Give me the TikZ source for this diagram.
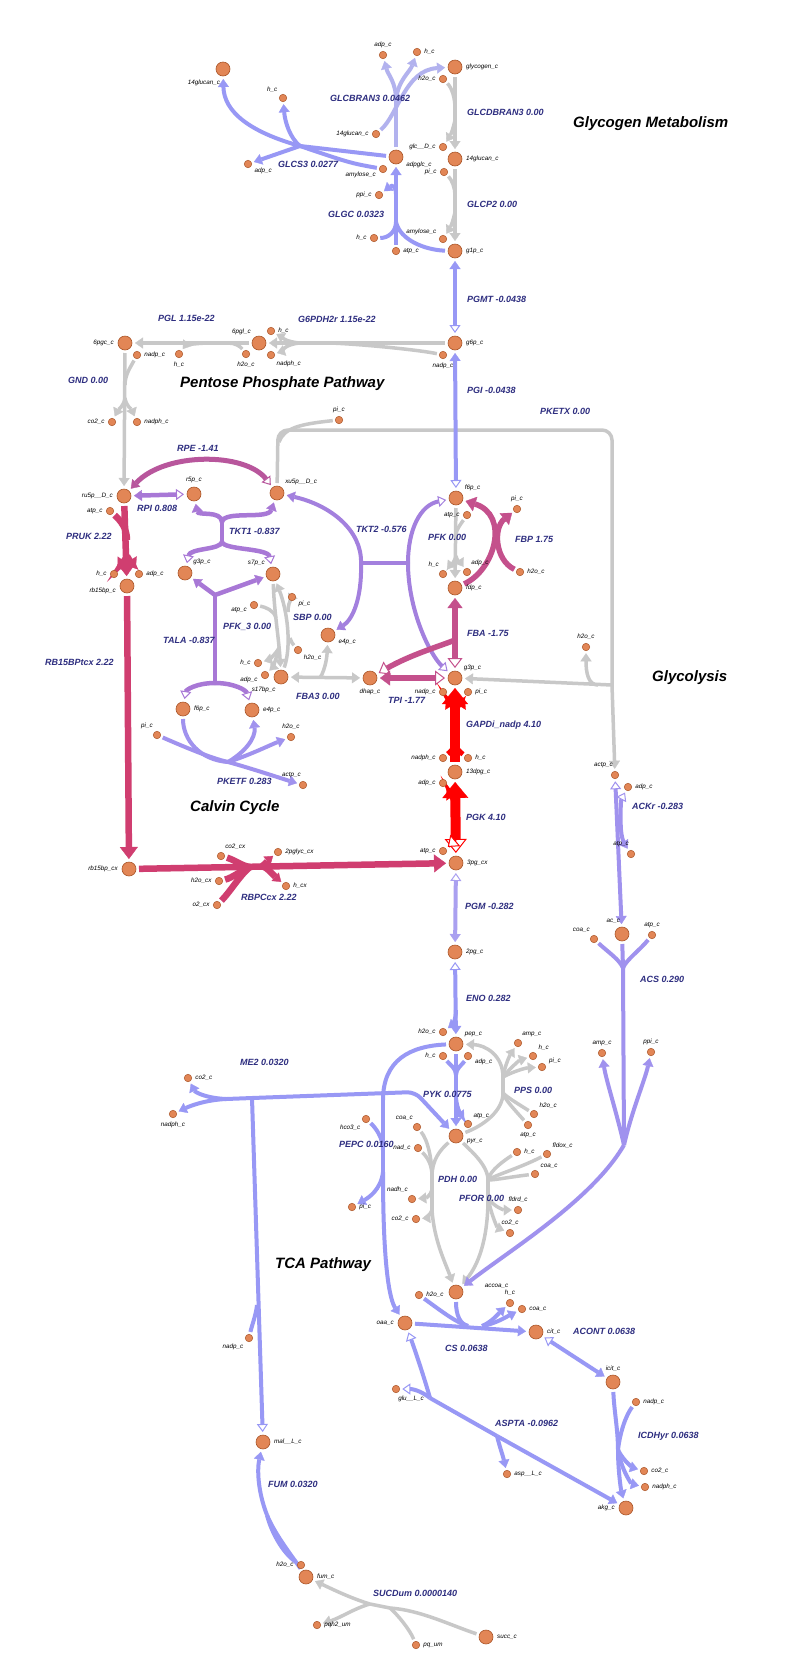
\documentclass[tikz,border=0pt]{standalone}
\usepackage{fontspec}
\setmainfont{Liberation Sans}
\usetikzlibrary{arrows.meta}
\pgfdeclarelayer{bg}
\pgfsetlayers{bg,main}

\definecolor{gcol}{RGB}{200,200,200}
\definecolor{bcol}{RGB}{152,152,245}
\definecolor{lbcol}{RGB}{178,178,238}
\definecolor{lvcol}{RGB}{170,160,240}
\definecolor{pucol}{RGB}{168,120,214}
\definecolor{pu2col}{RGB}{163,128,222}
\definecolor{pkcol}{RGB}{160,146,238}
\definecolor{rpecol}{RGB}{184,86,156}
\definecolor{mgcol}{RGB}{196,80,140}
\definecolor{crcol}{RGB}{208,62,112}
\definecolor{rdcol}{RGB}{255,0,0}
\definecolor{metfill}{RGB}{226,134,86}
\definecolor{metdraw}{RGB}{170,85,40}
\definecolor{rxcol}{RGB}{46,46,128}

\tikzset{
  ff/.tip={Triangle[length=8pt,width=11pt,line width=0.3pt]},
  hh/.tip={Triangle[length=8pt,width=11pt,line width=1pt,fill=white]},
  mf/.tip={Triangle[length=10pt,width=15pt,line width=0.3pt]},
  mh/.tip={Triangle[length=10pt,width=15pt,line width=1pt,fill=white]},
  cf/.tip={Triangle[length=12pt,width=18pt,line width=0.3pt]},
  rf/.tip={Triangle[length=16pt,width=26pt,line width=0.3pt]},
  rh/.tip={Triangle[length=14pt,width=22pt,line width=1pt,fill=white]},
  bm/.style={circle,minimum size=14pt,inner sep=0pt,outer sep=3pt,fill=metfill,draw=metdraw,line width=0.6pt},
  sm/.style={circle,minimum size=7.5pt,inner sep=0pt,outer sep=2.5pt,fill=metfill,draw=metdraw,line width=0.5pt},
  ml/.style={font=\fontsize{6.3}{7}\selectfont\itshape,text=black,inner sep=1pt},
  rl/.style={font=\fontsize{9}{11}\selectfont\bfseries\itshape,text=rxcol,anchor=west,inner sep=0pt},
  ttl/.style={font=\fontsize{15}{18}\selectfont\bfseries\itshape,text=black,anchor=west,inner sep=0pt},
  gr/.style={draw=gcol,line width=3.5pt},
  bl/.style={draw=bcol,line width=4pt},
  lb/.style={draw=lbcol,line width=4pt},
  lv/.style={draw=lvcol,line width=4pt},
  pu/.style={draw=pucol,line width=4.5pt},
  pu2/.style={draw=pu2col,line width=4pt},
  pk/.style={draw=pkcol,line width=4pt},
  rpe/.style={draw=rpecol,line width=5pt},
  mg/.style={draw=mgcol,line width=5.5pt},
  cr/.style={draw=crcol,line width=6.5pt},
  rd/.style={draw=rdcol,line width=10pt},
}
\newcommand\Mb[5]{\node[bm,label={[ml]#4:#5}] (#1) at (#2,#3) {};}
\newcommand\Ms[5]{\node[sm,label={[ml]#4:#5}] (#1) at (#2,#3) {};}

\begin{document}
\begin{tikzpicture}[x=1pt,y=-1pt]
\useasboundingbox (0,0) rectangle (788,1674);

% ---------- metabolites: glycogen ----------
\Mb{glucanA}{223}{69}{-100}{14glucan\_c}
\Ms{hA}{283}{98}{135}{h\_c}
\Ms{adpA}{248}{164}{-30}{adp\_c}
\Ms{glucanB}{376}{134}{180}{14glucan\_c}
\Mb{adpglc}{396}{157}{-25}{adpglc\_c}
\Ms{amyA}{383}{169}{195}{amylose\_c}
\Ms{adpB}{383}{55}{90}{adp\_c}
\Ms{hB}{417}{52}{0}{h\_c}
\Mb{glycogen}{455}{67}{0}{glycogen\_c}
\Ms{h2oA}{443}{79}{180}{h2o\_c}
\Ms{glcD}{443}{147}{180}{glc\_\_D\_c}
\Mb{glucanC}{455}{159}{0}{14glucan\_c}
\Ms{piA}{444}{172}{180}{pi\_c}
\Ms{ppiA}{379}{195}{180}{ppi\_c}
\Ms{hC}{374}{238}{180}{h\_c}
\Ms{atpA}{396}{251}{0}{atp\_c}
\Ms{amyB}{443}{239}{150}{amylose\_c}
\Mb{g1p}{455}{251}{0}{g1p\_c}

% ---------- pentose phosphate ----------
\Mb{g6p}{455}{343}{0}{g6p\_c}
\Ms{nadpA}{443}{355}{-90}{nadp\_c}
\Mb{pgl6}{259}{343}{135}{6pgl\_c}
\Ms{hD}{271}{331}{0}{h\_c}
\Ms{nadphA}{271}{355}{-45}{nadph\_c}
\Ms{h2oB}{246}{354}{-90}{h2o\_c}
\Ms{hE}{179}{354}{-90}{h\_c}
\Mb{pgc6}{125}{343}{180}{6pgc\_c}
\Ms{nadpB}{137}{355}{0}{nadp\_c}
\Ms{co2A}{112}{422}{180}{co2\_c}
\Ms{nadphB}{137}{422}{0}{nadph\_c}
\Ms{piB}{339}{420}{90}{pi\_c}

% ---------- Calvin cycle ----------
\Mb{ru5p}{124}{496}{180}{ru5p\_\_D\_c}
\Ms{atpB}{110}{511}{180}{atp\_c}
\Mb{r5p}{194}{494}{90}{r5p\_c}
\Mb{xu5p}{277}{493}{45}{xu5p\_\_D\_c}
\Ms{hF}{114}{574}{180}{h\_c}
\Ms{adpC}{139}{574}{0}{adp\_c}
\Mb{rb15bp}{127}{586}{185}{rb15bp\_c}
\Mb{g3pA}{185}{573}{45}{g3p\_c}
\Mb{s7p}{273}{574}{135}{s7p\_c}
\Ms{atpC}{254}{605}{195}{atp\_c}
\Ms{piC}{292}{597}{-30}{pi\_c}
\Mb{e4pA}{328}{635}{-20}{e4p\_c}
\Ms{h2oC}{298}{650}{-40}{h2o\_c}
\Ms{hG}{258}{663}{180}{h\_c}
\Ms{adpD}{265}{675}{190}{adp\_c}
\Mb{s17bp}{281}{677}{-115}{s17bp\_c}
\Mb{dhap}{370}{678}{-90}{dhap\_c}
\Mb{f6pA}{183}{709}{0}{f6p\_c}
\Mb{e4pB}{252}{710}{0}{e4p\_c}
\Ms{piD}{157}{735}{120}{pi\_c}
\Ms{h2oD}{291}{737}{90}{h2o\_c}
\Ms{actpA}{303}{785}{100}{actp\_c}
\Mb{rb15bpcx}{129}{869}{180}{rb15bp\_cx}
\Ms{co2cx}{221}{856}{60}{co2\_cx}
\Ms{pglyc}{278}{852}{0}{2pglyc\_cx}
\Ms{h2ocx}{219}{881}{180}{h2o\_cx}
\Ms{hcx}{286}{886}{0}{h\_cx}
\Ms{o2cx}{217}{905}{180}{o2\_cx}

% ---------- glycolysis ----------
\Mb{f6p}{456}{498}{40}{f6p\_c}
\Ms{atpD}{467}{515}{180}{atp\_c}
\Ms{hH}{443}{574}{120}{h\_c}
\Ms{adpE}{467}{572}{60}{adp\_c}
\Mb{fdp}{455}{588}{0}{fdp\_c}
\Ms{piE}{517}{509}{90}{pi\_c}
\Ms{h2oE}{520}{572}{0}{h2o\_c}
\Mb{g3p}{455}{678}{40}{g3p\_c}
\Ms{nadpC}{443}{692}{180}{nadp\_c}
\Ms{piF}{468}{692}{0}{pi\_c}
\Ms{nadph}{443}{758}{180}{nadph\_c}
\Ms{hI}{468}{758}{0}{h\_c}
\Mb{dpg13}{455}{772}{0}{13dpg\_c}
\Ms{adpF}{443}{783}{180}{adp\_c}
\Ms{atpE}{443}{851}{180}{atp\_c}
\Mb{pg3cx}{456}{863}{0}{3pg\_cx}
\Mb{pg2}{455}{952}{0}{2pg\_c}
\Ms{h2oF}{586}{647}{90}{h2o\_c}
\Ms{actp}{615}{775}{100}{actp\_c}
\Ms{adpG}{628}{787}{0}{adp\_c}
\Ms{atpF}{631}{854}{100}{atp\_c}
\Mb{ac}{622}{934}{95}{ac\_c}
\Ms{coaA}{594}{939}{120}{coa\_c}
\Ms{atpG}{652}{935}{90}{atp\_c}
\Ms{ampA}{602}{1053}{90}{amp\_c}
\Ms{ppiB}{651}{1052}{90}{ppi\_c}

% ---------- pyruvate and TCA ----------
\Mb{pep}{456}{1044}{40}{pep\_c}
\Ms{h2oG}{443}{1032}{180}{h2o\_c}
\Ms{hJ}{443}{1056}{180}{h\_c}
\Ms{adpH}{468}{1056}{-20}{adp\_c}
\Ms{ampB}{518}{1043}{60}{amp\_c}
\Ms{hK}{533}{1056}{45}{h\_c}
\Ms{piG}{542}{1067}{15}{pi\_c}
\Ms{h2oH}{534}{1114}{45}{h2o\_c}
\Ms{atpH}{528}{1125}{-90}{atp\_c}
\Ms{atpI}{468}{1124}{45}{atp\_c}
\Mb{pyr}{456}{1136}{-10}{pyr\_c}
\Ms{coaB}{417}{1127}{120}{coa\_c}
\Ms{nadA}{418}{1148}{180}{nad\_c}
\Ms{nadhA}{412}{1199}{120}{nadh\_c}
\Ms{co2B}{416}{1219}{180}{co2\_c}
\Ms{hL}{517}{1152}{0}{h\_c}
\Ms{fldox}{547}{1154}{45}{fldox\_c}
\Ms{coaC}{535}{1174}{45}{coa\_c}
\Ms{fldrd}{518}{1210}{90}{fldrd\_c}
\Ms{co2C}{510}{1233}{90}{co2\_c}
\Ms{co2D}{188}{1078}{0}{co2\_c}
\Ms{nadphC}{173}{1114}{-90}{nadph\_c}
\Ms{hco3}{366}{1119}{-135}{hco3\_c}
\Ms{piH}{352}{1207}{0}{pi\_c}
\Ms{h2oI}{419}{1295}{0}{h2o\_c}
\Mb{accoa}{456}{1292}{15}{\hspace{18pt}accoa\_c}
\Ms{hM}{510}{1303}{90}{h\_c}
\Ms{coaD}{522}{1309}{0}{coa\_c}
\Mb{oaa}{405}{1323}{180}{oaa\_c}
\Mb{cit}{536}{1332}{0}{cit\_c}
\Mb{icit}{613}{1382}{90}{icit\_c}
\Ms{nadpD}{636}{1402}{0}{nadp\_c}
\Ms{glu}{396}{1389}{-80}{glu\_\_L\_c}
\Ms{asp}{507}{1474}{0}{asp\_\_L\_c}
\Ms{nadpE}{249}{1338}{-135}{nadp\_c}
\Mb{mal}{263}{1442}{0}{mal\_\_L\_c}
\Ms{co2E}{644}{1471}{0}{co2\_c}
\Ms{nadphD}{645}{1487}{0}{nadph\_c}
\Mb{akg}{626}{1508}{180}{akg\_c}
\Ms{h2oJ}{301}{1565}{180}{h2o\_c}
\Mb{fum}{306}{1577}{0}{fum\_c}
\Ms{pqh2}{317}{1625}{0}{pqh2\_um}
\Ms{pq}{416}{1645}{0}{pq\_um}
\Mb{succ}{486}{1637}{0}{succ\_c}

% ---------- reaction and pathway labels ----------
\node[rl] (lGLCBRAN3) at (330,98) {GLCBRAN3 0.0462};
\node[rl] (lGLCDBRAN3) at (467,112) {GLCDBRAN3 0.00};
\node[rl] (lGLCS3) at (278,164) {GLCS3 0.0277};
\node[rl] (lGLGC) at (328,214) {GLGC 0.0323};
\node[rl] (lGLCP2) at (467,204) {GLCP2 0.00};
\node[rl] (lPGMT) at (467,299) {PGMT -0.0438};
\node[rl] (lPGL) at (158,318) {PGL 1.15e-22};
\node[rl] (lG6PDH2r) at (298,319) {G6PDH2r 1.15e-22};
\node[rl] (lGND) at (68,380) {GND 0.00};
\node[rl] (lPGI) at (467,390) {PGI -0.0438};
\node[rl] (lPKETX) at (540,411) {PKETX 0.00};
\node[rl] (lRPE) at (177,448) {RPE -1.41};
\node[rl] (lRPI) at (137,508) {RPI 0.808};
\node[rl] (lTKT1) at (229,531) {TKT1 -0.837};
\node[rl] (lTKT2) at (356,529) {TKT2 -0.576};
\node[rl] (lPFK) at (428,537) {PFK 0.00};
\node[rl] (lFBP) at (515,539) {FBP 1.75};
\node[rl] (lPRUK) at (66,536) {PRUK 2.22};
\node[rl] (lSBP) at (293,617) {SBP 0.00};
\node[rl] (lPFK3) at (223,627) {PFK\_3 0.00};
\node[rl] (lFBA) at (467,633) {FBA -1.75};
\node[rl] (lTALA) at (163,640) {TALA -0.837};
\node[rl] (lRB15) at (45,662) {RB15BPtcx 2.22};
\node[rl] (lGAPD) at (466,725) {GAPDi\_nadp 4.10};
\node[rl] (lFBA3) at (296,696) {FBA3 0.00};
\node[rl] (lTPI) at (388,700) {TPI -1.77};
\node[rl] (lPKETF) at (217,781) {PKETF 0.283};
\node[rl] (lACKr) at (632,806) {ACKr -0.283};
\node[rl] (lPGK) at (466,817) {PGK 4.10};
\node[rl] (lRBPC) at (241,897) {RBPCcx 2.22};
\node[rl] (lPGM) at (465,906) {PGM -0.282};
\node[rl] (lACS) at (640,979) {ACS 0.290};
\node[rl] (lENO) at (466,998) {ENO 0.282};
\node[rl] (lME2) at (240,1062) {ME2 0.0320};
\node[rl] (lPPS) at (514,1090) {PPS 0.00};
\node[rl] (lPYK) at (423,1094) {PYK 0.0775};
\node[rl] (lPEPC) at (339,1144) {PEPC 0.0160};
\node[rl] (lPDH) at (438,1179) {PDH 0.00};
\node[rl] (lPFOR) at (459,1198) {PFOR 0.00};
\node[rl] (lACONT) at (573,1331) {ACONT 0.0638};
\node[rl] (lCS) at (445,1348) {CS 0.0638};
\node[rl] (lASPTA) at (495,1423) {ASPTA -0.0962};
\node[rl] (lICDH) at (638,1436) {ICDHyr 0.0638};
\node[rl] (lFUM) at (268,1484) {FUM 0.0320};
\node[rl] (lSUCD) at (373,1593) {SUCDum 0.0000140};

\node[ttl] (tGlycogen) at (573,124) {Glycogen Metabolism};
\node[ttl] (tPPP) at (180,384) {Pentose Phosphate Pathway};
\node[ttl] (tGlycolysis) at (652,678) {Glycolysis};
\node[ttl] (tCalvin) at (190,808) {Calvin Cycle};
\node[ttl] (tTCA) at (275,1265) {TCA Pathway};

% ---------- reactions, behind the metabolites ----------
\begin{pgfonlayer}{bg}
\fill[white] (0,0) rectangle (788,1674);
% GLCS3
\coordinate (hgs) at (300,146);
\draw[bl] (adpglc) -- (hgs);
\draw[bl] (amyA) .. controls (350,163) .. (hgs);
\draw[bl,-ff] (hgs) .. controls (250,132) and (224,112) .. (glucanA);
\draw[bl,-ff] (hgs) .. controls (290,138) and (285,122) .. (hA);
\draw[bl,-ff] (hgs) -- (adpA);
% GLCBRAN3
\coordinate (hgb) at (396,100);
\draw[lb,-ff] (glucanB) .. controls (398,115) and (405,70) .. (glycogen);
\draw[lb] (adpglc) -- (hgb);
\draw[lb,-ff] (hgb) .. controls (396,82) and (388,75) .. (adpB);
\draw[lb,-ff] (hgb) .. controls (398,80) and (410,72) .. (hB);
% GLCDBRAN3
\coordinate (hgd1) at (455,108);
\coordinate (hgd2) at (455,120);
\draw[gr,-ff] (glycogen) -- (glucanC);
\draw[gr] (h2oA) .. controls (452,88) and (455,98) .. (hgd1);
\draw[gr,-ff] (hgd2) .. controls (453,130) and (450,136) .. (glcD);
% GLCP2
\coordinate (hgp1) at (455,195);
\coordinate (hgp2) at (455,212);
\draw[gr,-ff] (glucanC) -- (g1p);
\draw[gr] (piA) .. controls (452,180) and (455,188) .. (hgp1);
\draw[gr,-ff] (hgp2) .. controls (453,222) and (450,228) .. (amyB);
% GLGC
\coordinate (hgg) at (396,222);
\coordinate (hgg2) at (396,194);
\draw[bl] (g1p) .. controls (425,250) and (400,240) .. (hgg);
\draw[bl] (atpA) -- (hgg);
\draw[bl] (hC) .. controls (388,238) and (396,232) .. (hgg);
\draw[bl,-ff] (hgg) -- (adpglc);
\draw[bl,-ff] (hgg2) .. controls (396,186) and (392,185) .. (ppiA);
% PGMT
\draw[bl,hh-ff] (g6p) -- (g1p);
% G6PDH2r
\coordinate (hg6a) at (330,343);
\coordinate (hg6b) at (300,343);
\draw[gr,-ff] (g6p) -- (pgl6);
\draw[gr] (nadpA) .. controls (420,350) and (360,344) .. (hg6a);
\draw[gr,-ff] (hg6b) .. controls (285,342) and (280,336) .. (hD);
\draw[gr,-ff] (hg6b) .. controls (285,344) and (280,352) .. (nadphA);
% PGL
\coordinate (hpa) at (228,343);
\coordinate (hpb) at (210,343);
\draw[gr,-ff] (pgl6) -- (pgc6);
\draw[gr] (h2oB) .. controls (240,346) and (235,343) .. (hpa);
\draw[gr,-ff] (hpb) .. controls (195,343) and (185,346) .. (hE);
% GND
\coordinate (hna) at (125,385);
\coordinate (hnb) at (125,398);
\draw[gr,-ff] (pgc6) -- (ru5p);
\draw[gr] (nadpB) .. controls (130,368) and (125,375) .. (hna);
\draw[gr,-ff] (hnb) .. controls (124,406) and (118,410) .. (co2A);
\draw[gr,-ff] (hnb) .. controls (126,406) and (132,410) .. (nadphB);
% PKETX
\coordinate (hkx0) at (278,430);
\coordinate (hkx1) at (612,430);
\coordinate (hkx2) at (612,685);
\coordinate (hkx3) at (598,685);
\coordinate (hkxp) at (279,442);
\draw[gr,rounded corners=10pt] (xu5p) -- (hkx0) -- (hkx1) -- (hkx2);
\draw[gr] (piB) .. controls (300,424) and (284,428) .. (hkxp);
\draw[gr,-ff] (hkx2) -- (actp);
\draw[gr,-ff] (hkx2) -- (g3p);
\draw[gr,-ff] (hkx3) .. controls (588,685) and (586,672) .. (h2oF);
% PGI
\draw[bl,hh-ff] (f6p) -- (g6p);
% RPE, RPI
\draw[rpe,hh-ff] (xu5p) .. controls (245,452) and (165,452) .. (ru5p);
\draw[pu,hh-ff] (r5p) -- (ru5p);
% TKT1
\coordinate (tka) at (222,522);
\coordinate (tkb) at (222,542);
\draw[pu] (tka) -- (tkb);
\draw[pu,-ff] (tka) .. controls (221,510) and (198,516) .. (r5p);
\draw[pu,-ff] (tka) .. controls (224,510) and (268,520) .. (xu5p);
\draw[pu,-hh] (tkb) .. controls (220,550) and (190,548) .. (g3pA);
\draw[pu,-hh] (tkb) .. controls (224,550) and (268,548) .. (s7p);
% TKT2
\coordinate (tk2a) at (361,563);
\coordinate (tk2b) at (408,563);
\draw[pu2,ff-] (xu5p) .. controls (330,505) and (362,530) .. (tk2a);
\draw[pu2,-ff] (tk2a) .. controls (362,600) and (352,620) .. (e4pA);
\draw[pu2] (tk2a) -- (tk2b);
\draw[pu2,hh-] (f6p) .. controls (420,505) and (408,530) .. (tk2b);
\draw[pu2,-hh] (tk2b) .. controls (408,610) and (430,655) .. (g3p);
% PRUK
\coordinate (hpr1) at (127,540);
\coordinate (hpr2) at (127,556);
\draw[cr,-cf] (ru5p) -- (rb15bp);
\draw[cr] (atpB) .. controls (120,520) and (127,528) .. (hpr1);
\draw[cr,-mf] (hpr2) .. controls (124,562) and (120,566) .. (hF);
\draw[cr,-mf] (hpr2) .. controls (130,562) and (134,566) .. (adpC);
% RB15BPtcx
\draw[cr,-cf] (rb15bp) -- (rb15bpcx);
% RBPCcx
\coordinate (hrb) at (250,867);
\coordinate (hrb2) at (262,866);
\draw[cr,-cf] (rb15bpcx) -- (pg3cx);
\draw[cr] (co2cx) .. controls (235,860) and (242,866) .. (hrb);
\draw[cr] (h2ocx) .. controls (232,878) and (242,870) .. (hrb);
\draw[cr] (o2cx) .. controls (230,892) and (240,875) .. (hrb);
\draw[cr,-ff] (hrb2) .. controls (266,864) and (268,860) .. (pglyc);
\draw[cr,-ff] (hrb2) .. controls (268,868) and (272,874) .. (hcx);
% TALA
\coordinate (taa) at (215,595);
\coordinate (tab) at (215,683);
\draw[pu] (taa) -- (tab);
\draw[pu,-ff] (taa) -- (g3pA);
\draw[pu,-ff] (taa) -- (s7p);
\draw[pu,-hh] (tab) .. controls (196,683) and (186,690) .. (f6pA);
\draw[pu,-hh] (tab) .. controls (234,683) and (246,690) .. (e4pB);
% PKETF
\coordinate (hkf) at (228,762);
\draw[pk] (f6pA) .. controls (183,740) and (200,760) .. (hkf);
\draw[pk] (piD) .. controls (180,745) and (210,758) .. (hkf);
\draw[pk,-ff] (hkf) .. controls (245,752) and (256,738) .. (e4pB);
\draw[pk,-ff] (hkf) .. controls (250,755) and (270,745) .. (h2oD);
\draw[pk,-ff] (hkf) .. controls (250,768) and (280,778) .. (actpA);
% PFK_3
\coordinate (hp3a) at (276,618);
\coordinate (hp3b) at (279,648);
\draw[gr,-ff] (s7p) .. controls (274,610) and (279,640) .. (s17bp);
\draw[gr] (atpC) .. controls (265,607) and (274,610) .. (hp3a);
\draw[gr,-ff] (hp3b) .. controls (275,655) and (268,660) .. (hG);
\draw[gr,-ff] (hp3b) .. controls (276,660) and (272,668) .. (adpD);
% SBP
\coordinate (hsba) at (290,638);
\coordinate (hsbb) at (288,612);
\draw[gr,-ff] (s17bp) .. controls (292,645) and (287,610) .. (s7p);
\draw[gr] (h2oC) .. controls (292,643) .. (hsba);
\draw[gr,-ff] (hsbb) .. controls (288,606) and (289,602) .. (piC);
% FBA3
\coordinate (hf3) at (320,678);
\draw[gr,ff-ff] (s17bp) -- (dhap);
\draw[gr,-ff] (hf3) .. controls (326,668) and (327,655) .. (e4pA);
% PFK
\coordinate (hpk1) at (456,535);
\coordinate (hpk2) at (456,556);
\draw[gr,-ff] (f6p) -- (fdp);
\draw[gr] (atpD) .. controls (460,525) and (456,530) .. (hpk1);
\draw[gr,-ff] (hpk2) .. controls (454,564) and (448,568) .. (hH);
\draw[gr,-ff] (hpk2) .. controls (458,564) and (463,566) .. (adpE);
% FBP
\draw[mg,-mf] (fdp) .. controls (495,570) and (510,515) .. (f6p);
\draw[mg,-mf] (h2oE) .. controls (495,560) and (493,528) .. (piE);
% FBA, TPI
\draw[mg,mh-mf] (g3p) -- (fdp);
\coordinate (hfba) at (455,640);
\draw[mg,mh-] (dhap) .. controls (410,655) and (440,646) .. (hfba);
\draw[mg,mh-mf] (g3p) -- (dhap);
% GAPDi_nadp
\coordinate (hga) at (455,712);
\coordinate (hgc) at (455,742);
\draw[rd,-rf] (dpg13) -- (g3p);
\draw[rd,line width=5pt] (nadph) .. controls (450,752) and (455,748) .. (hgc);
\draw[rd,line width=5pt] (hI) .. controls (460,752) and (455,748) .. (hgc);
\draw[rd,line width=5pt,-mf] (hga) .. controls (452,705) and (448,700) .. (nadpC);
\draw[rd,line width=5pt,-mf] (hga) .. controls (458,705) and (463,700) .. (piF);
% PGK
\coordinate (hgk1) at (455,805);
\coordinate (hgk2) at (455,835);
\draw[rd,rh-rf] (pg3cx) -- (dpg13);
\draw[rd,line width=5pt,-mf] (hgk1) .. controls (452,795) and (448,790) .. (adpF);
\draw[rd,line width=5pt,mh-] (atpE) .. controls (450,845) and (455,840) .. (hgk2);
% PGM, ENO
\draw[lv,hh-ff] (pg3cx) -- (pg2);
\coordinate (hen) at (456,1010);
\draw[bl,hh-ff] (pg2) -- (pep);
\draw[bl,-ff] (hen) .. controls (456,1020) and (452,1025) .. (h2oG);
% PYK
\coordinate (hpy1) at (456,1075);
\coordinate (hpy2) at (456,1098);
\draw[bl,-ff] (pep) -- (pyr);
\draw[bl] (hJ) .. controls (450,1065) and (456,1068) .. (hpy1);
\draw[bl] (adpH) .. controls (462,1065) and (456,1068) .. (hpy1);
\draw[bl,-ff] (hpy2) .. controls (457,1110) and (462,1116) .. (atpI);
% PPS
\coordinate (hps1) at (503,1077);
\coordinate (hps2) at (503,1093);
\draw[gr,-ff] (hps1) .. controls (503,1055) and (485,1045) .. (pep);
\draw[gr] (pyr) .. controls (485,1125) and (503,1110) .. (hps2);
\draw[gr] (hps2) -- (hps1);
\draw[gr,-ff] (hps1) .. controls (505,1065) and (510,1055) .. (ampB);
\draw[gr,-ff] (hps1) .. controls (510,1068) and (520,1060) .. (hK);
\draw[gr,-ff] (hps1) .. controls (512,1072) and (525,1068) .. (piG);
\draw[gr] (h2oH) .. controls (520,1105) and (508,1098) .. (hps2);
\draw[gr] (atpH) .. controls (515,1110) and (505,1100) .. (hps2);
% PDH
\coordinate (hpd1) at (432,1176);
\coordinate (hpd2) at (432,1190);
\coordinate (hpd3) at (432,1210);
\draw[gr] (pyr) .. controls (440,1150) and (432,1160) .. (hpd1);
\draw[gr] (coaB) .. controls (428,1140) and (432,1160) .. (hpd1);
\draw[gr] (nadA) .. controls (428,1158) and (432,1165) .. (hpd1);
\draw[gr] (hpd1) -- (hpd3);
\draw[gr,-ff] (hpd2) .. controls (430,1196) and (426,1198) .. (nadhA);
\draw[gr,-ff] (hpd3) .. controls (430,1215) and (426,1218) .. (co2B);
\draw[gr,-ff] (hpd3) .. controls (434,1240) and (445,1262) .. (accoa);
% PFOR
\coordinate (hpf1) at (488,1180);
\coordinate (hpf2) at (488,1198);
\draw[gr] (pyr) .. controls (470,1150) and (488,1165) .. (hpf1);
\draw[gr] (hL) .. controls (505,1160) and (490,1170) .. (hpf1);
\draw[gr] (fldox) .. controls (520,1168) and (495,1175) .. (hpf1);
\draw[gr] (coaC) .. controls (510,1177) and (495,1180) .. (hpf1);
\draw[gr] (hpf1) -- (hpf2);
\draw[gr,-ff] (hpf2) .. controls (495,1208) and (505,1210) .. (fldrd);
\draw[gr,-ff] (hpf2) .. controls (492,1218) and (498,1228) .. (co2C);
\draw[gr,-ff] (hpf2) .. controls (488,1240) and (478,1265) .. (accoa);
% ME2
\coordinate (hme) at (252,1098);
\coordinate (hme0) at (226,1099);
\coordinate (hmec) at (415,1092);
\coordinate (hmen) at (257,1305);
\draw[bl,hh-] (mal) -- (hme);
\draw[bl] (nadpE) .. controls (252,1325) and (256,1315) .. (hmen);
\draw[bl] (hme) -- (hme0);
\draw[bl,-ff] (hme0) .. controls (205,1098) and (195,1092) .. (co2D);
\draw[bl,-ff] (hme0) .. controls (205,1100) and (190,1106) .. (nadphC);
\draw[bl,-ff,rounded corners=8pt] (hme) -- (hmec) -- (pyr);
% PEPC
\coordinate (hpe0) at (383,1100);
\coordinate (hpe1) at (383,1150);
\coordinate (hpe2) at (383,1172);
\draw[bl] (pep) .. controls (410,1046) and (383,1060) .. (hpe0);
\draw[bl] (hpe0) -- (hpe2);
\draw[bl] (hco3) .. controls (376,1128) and (383,1138) .. (hpe1);
\draw[bl,-ff] (hpe2) .. controls (381,1190) and (368,1198) .. (piH);
\draw[bl,-ff] (hpe2) .. controls (383,1270) and (390,1300) .. (oaa);
% CS
\coordinate (hcs) at (468,1326);
\coordinate (hcs2) at (482,1326);
\draw[bl,-ff] (oaa) -- (cit);
\draw[bl] (accoa) .. controls (456,1315) and (460,1324) .. (hcs);
\draw[bl] (h2oI) .. controls (440,1310) and (455,1322) .. (hcs);
\draw[bl,-ff] (hcs2) .. controls (492,1322) and (500,1312) .. (hM);
\draw[bl,-ff] (hcs2) .. controls (495,1324) and (508,1316) .. (coaD);
% ACONT
\draw[bl,hh-ff] (cit) -- (icit);
% ICDHyr
\coordinate (hic) at (618,1450);
\draw[bl] (icit) .. controls (614,1410) and (618,1430) .. (hic);
\draw[bl] (nadpD) .. controls (626,1415) and (620,1432) .. (hic);
\draw[bl,-ff] (hic) .. controls (618,1470) and (621,1490) .. (akg);
\draw[bl,-ff] (hic) .. controls (624,1462) and (634,1468) .. (co2E);
\draw[bl,-ff] (hic) .. controls (622,1472) and (632,1484) .. (nadphD);
% ASPTA
\coordinate (has1) at (430,1398);
\coordinate (has2) at (497,1436);
\draw[bl,hh-] (oaa) .. controls (415,1350) and (425,1380) .. (has1);
\draw[bl,hh-] (glu) .. controls (415,1389) and (424,1393) .. (has1);
\draw[bl] (has1) -- (has2);
\draw[bl,-ff] (has2) -- (akg);
\draw[bl,-ff] (has2) .. controls (500,1448) and (503,1456) .. (asp);
% FUM
\coordinate (hfu) at (267,1515);
\draw[bl,-ff] (hfu) .. controls (258,1492) and (257,1470) .. (mal);
\draw[bl] (h2oJ) .. controls (285,1555) and (272,1535) .. (hfu);
\draw[bl] (fum) .. controls (295,1560) and (275,1535) .. (hfu);
% SUCDum
\coordinate (hsu) at (390,1608);
\coordinate (hsu2) at (370,1604);
\draw[gr] (succ) .. controls (450,1625) and (420,1610) .. (hsu);
\draw[gr] (pq) .. controls (410,1630) and (398,1615) .. (hsu);
\draw[gr] (hsu) -- (hsu2);
\draw[gr,-ff] (hsu2) .. controls (350,1598) and (330,1588) .. (fum);
\draw[gr,-ff] (hsu2) .. controls (355,1608) and (340,1618) .. (pqh2);
% ACKr
\coordinate (hak) at (621,830);
\draw[pk,hh-ff] (actp) -- (ac);
\draw[pk,hh-] (adpG) .. controls (621,800) and (620,815) .. (hak);
\draw[pk,-ff] (hak) .. controls (622,842) and (626,846) .. (atpF);
% ACS
\coordinate (hcsa) at (623,968);
\coordinate (hcsb) at (624,1145);
\draw[pk] (coaA) .. controls (608,952) and (620,960) .. (hcsa);
\draw[pk] (ac) -- (hcsa);
\draw[pk] (atpG) .. controls (640,950) and (626,960) .. (hcsa);
\draw[pk] (hcsa) -- (hcsb);
\draw[pk,-ff] (hcsb) .. controls (616,1110) and (606,1080) .. (ampA);
\draw[pk,-ff] (hcsb) .. controls (632,1110) and (645,1080) .. (ppiB);
\draw[pk,-ff] (hcsb) .. controls (592,1200) and (510,1250) .. (accoa);
\end{pgfonlayer}
\end{tikzpicture}
\end{document}
